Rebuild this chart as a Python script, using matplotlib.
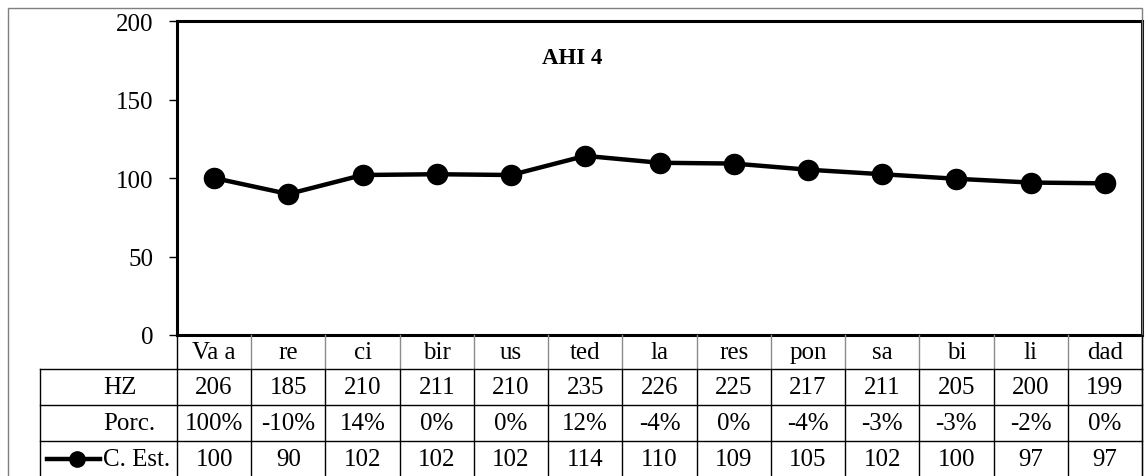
import matplotlib
matplotlib.use("Agg")
import matplotlib.pyplot as plt
from matplotlib.lines import Line2D
from matplotlib.patches import Rectangle
from matplotlib.transforms import blended_transform_factory

plt.rcParams['font.family'] = ['Liberation Serif', 'DejaVu Serif']

# data
categories = ['Va a', 're', 'ci', 'bir', 'us', 'ted', 'la', 'res', 'pon', 'sa', 'bi', 'li', 'dad']
hz = [206, 185, 210, 211, 210, 235, 226, 225, 217, 211, 205, 200, 199]
porc = ['100%', '-10%', '14%', '0%', '0%', '12%', '-4%', '0%', '-4%', '-3%', '-3%', '-2%', '0%']
c_est = [100, 89.8, 101.9, 102.4, 101.9, 114.1, 109.7, 109.2, 105.3, 102.4, 99.5, 97.1, 96.6]
c_est_txt = ['100', '90', '102', '102', '102', '114', '110', '109', '105', '102', '100', '97', '97']
row_labels = ['HZ', 'Porc.', 'C. Est.']

W, H = 1146, 477
fig = plt.figure(figsize=(W / 100, H / 100), dpi=100)

def fy(p):
    # pixel row -> figure fraction
    return (H - p) / H

def fx(p):
    return p / W

# outer chart border
fig.patches.append(Rectangle((fx(8), fy(478)), fx(1142) - fx(8), fy(9) - fy(478),
                             transform=fig.transFigure, fill=False,
                             edgecolor='#7f7f7f', lw=1.0))

left, right, top, bottom = 177, 1142, 22, 336
ax = fig.add_axes([fx(left), fy(bottom), fx(right) - fx(left), fy(top) - fy(bottom)])

x = list(range(len(categories)))
ax.plot(x, c_est, color='black', lw=3.2, marker='o', ms=14.5, mfc='black', mec='black', clip_on=False)

ax.set_xlim(-0.5, len(categories) - 0.5)
ax.set_ylim(0, 200)
ax.set_yticks([0, 50, 100, 150, 200])
ax.set_xticks([])
ax.tick_params(axis='y', length=6, width=1, labelsize=18, pad=11, direction='out')
for s in ax.spines.values():
    s.set_linewidth(2.2)
    s.set_color('black')

ax.text(0.41, 0.885, 'AHI 4', transform=ax.transAxes, ha='center', va='center',
        fontsize=16.5, fontweight='bold')

# data table under the plot
tr = blended_transform_factory(ax.transData, fig.transFigure)
row_edges = [336, 370, 406, 442, 478]
x_lab = -0.5 - (left - 40) / ((right - left) / len(categories))

def hline(ypix, x0, x1, color='black'):
    fig.add_artist(Line2D([x0, x1], [fy(ypix), fy(ypix)], transform=tr, color=color, lw=1))

def vline(xd, y0, y1, color='black'):
    fig.add_artist(Line2D([xd, xd], [fy(y0), fy(y1)], transform=tr, color=color, lw=1))

for yp in row_edges[1:4]:
    hline(yp, x_lab, len(categories) - 0.5)
vline(x_lab, 370, 478)
for i in range(len(categories) + 1):
    xd = i - 0.5
    vline(xd, 336, 370, color='#8c8c8c' if 0 < i < len(categories) else 'black')
    vline(xd, 370, 478)

def centre(r):
    return fy((row_edges[r] + row_edges[r + 1]) / 2)

fs = 18
for i in x:
    fig.text(i, centre(0), categories[i], transform=tr, ha='center', va='center', fontsize=fs)
    fig.text(i, centre(1), str(hz[i]), transform=tr, ha='center', va='center', fontsize=fs)
    fig.text(i, centre(2), porc[i], transform=tr, ha='center', va='center', fontsize=fs)
    fig.text(i, centre(3), c_est_txt[i], transform=tr, ha='center', va='center', fontsize=fs)

for r, lab in enumerate(row_labels):
    fig.text(fx(103), centre(r + 1), lab, transform=fig.transFigure, ha='left', va='center', fontsize=fs)

# legend key in the last row
yk = centre(3)
fig.add_artist(Line2D([fx(47), fx(100)], [yk, yk], transform=fig.transFigure, color='black', lw=3.2))
fig.add_artist(Line2D([fx(77)], [yk], transform=fig.transFigure, color='black', marker='o', ms=11, ls='none'))

fig.savefig('out.png', dpi=100)
